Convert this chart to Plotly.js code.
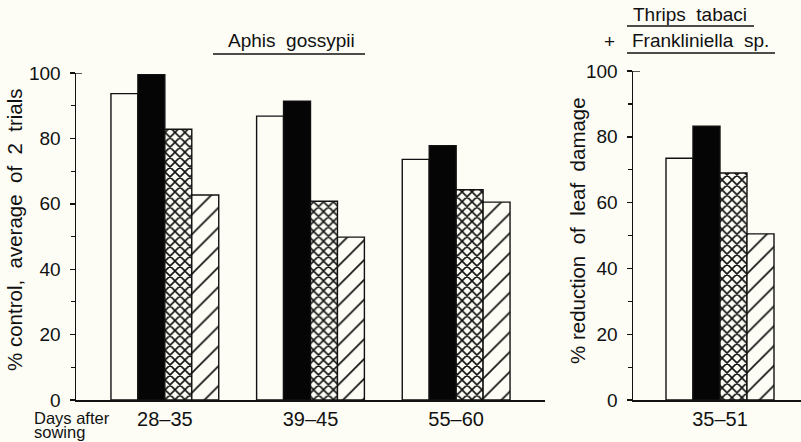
<!DOCTYPE html>
<html>
<head>
<meta charset="utf-8">
<script src="https://cdn.plot.ly/plotly-3.0.1.min.js"></script>
<style>html,body{margin:0;padding:0;background:#fdfdf6;}#chart{width:801px;height:442px;}</style>
</head>
<body>
<div id="chart"></div>
<script>
// Data
var aphisCategories = ['28\u201335', '39\u201345', '55\u201360'];
var aphisWhite  = [93.7, 86.8, 73.6];
var aphisBlack  = [99.5, 91.4, 77.8];
var aphisCross  = [82.8, 60.8, 64.3];
var aphisHatch  = [62.7, 49.8, 60.5];

var thripsCategories = ['35\u201351'];
var thripsWhite = [73.5];
var thripsBlack = [83.2];
var thripsCross = [69.0];
var thripsHatch = [50.5];

var yTickVals = [0, 20, 40, 60, 80, 100];

var FONT = 'Liberation Sans, Arial, sans-serif';
var INK = '#111';
var BG = '#fdfdf6';

function styleFor(kind) {
  var m = {line: {color: INK, width: 1.4}};
  if (kind === 'white') { m.color = BG; }
  else if (kind === 'black') { m.color = '#050505'; }
  else if (kind === 'cross') { m.color = BG; m.pattern = {shape: 'x', size: 7, solidity: 0.4, fgcolor: INK, bgcolor: BG, fillmode: 'replace'}; }
  else { m.color = BG; m.pattern = {shape: '/', size: 14, solidity: 0.12, fgcolor: INK, bgcolor: BG, fillmode: 'replace'}; }
  return m;
}

function bar(cats, vals, kind, xa, ya) {
  return {type: 'bar', x: cats, y: vals, xaxis: xa, yaxis: ya, marker: styleFor(kind), showlegend: false, hoverinfo: 'x+y'};
}

var data = [
  bar(aphisCategories, aphisWhite, 'white', 'x', 'y'),
  bar(aphisCategories, aphisBlack, 'black', 'x', 'y'),
  bar(aphisCategories, aphisCross, 'cross', 'x', 'y'),
  bar(aphisCategories, aphisHatch, 'hatch', 'x', 'y'),
  bar(thripsCategories, thripsWhite, 'white', 'x2', 'y2'),
  bar(thripsCategories, thripsBlack, 'black', 'x2', 'y2'),
  bar(thripsCategories, thripsCross, 'cross', 'x2', 'y2'),
  bar(thripsCategories, thripsHatch, 'hatch', 'x2', 'y2')
];

function yAxis(domainTop, anchor) {
  return {
    domain: [42/442, domainTop], range: [0, 100], anchor: anchor,
    tickvals: yTickVals, ticks: 'outside', ticklen: 5, tickwidth: 1.4, tickcolor: INK,
    minor: {dtick: 10, ticks: 'outside', ticklen: 4, tickwidth: 1.2, tickcolor: INK, showgrid: false},
    showline: true, linecolor: INK, linewidth: 1.5, showgrid: false, zeroline: false,
    tickfont: {family: FONT, size: 19, color: INK}, ticklabelstandoff: 5, fixedrange: true
  };
}
function xAxis(domain, range, anchor) {
  return {
    domain: domain, range: range, anchor: anchor, type: 'category',
    showline: true, linecolor: INK, linewidth: 1.5, ticks: '', showgrid: false, zeroline: false,
    tickfont: {family: FONT, size: 20, color: INK}, ticklabelstandoff: 0, fixedrange: true
  };
}

function note(text, px, py, extra) {
  var a = {text: text, xref: 'paper', yref: 'paper', x: px/801, y: (442-py)/442,
    xanchor: 'center', yanchor: 'middle', showarrow: false,
    font: {size: 19, family: FONT, color: INK}};
  for (var k in (extra || {})) a[k] = extra[k];
  return a;
}

var smallFont = {size: 16.5, family: FONT, color: INK};
var titleFont = {size: 20.5, family: FONT, color: INK};

var layout = {
  width: 801, height: 442,
  margin: {l: 0, r: 0, t: 0, b: 0},
  paper_bgcolor: BG, plot_bgcolor: BG,
  barmode: 'group', bargap: 0.26, bargroupgap: 0,
  showlegend: false,
  font: {family: FONT, color: INK},
  xaxis: xAxis([76/801, 545/801], [-0.61, 2.61], 'y'),
  yaxis: yAxis(369/442, 'x'),
  xaxis2: xAxis([633/801, 1], [-0.596, 0.555], 'y2'),
  yaxis2: yAxis(371/442, 'x2'),
  annotations: [
    note('Aphis  gossypii', 291, 40),
    note('Thrips  tabaci', 690, 14),
    note('+', 609, 41),
    note('Frankliniella  sp.', 700, 40),
    note('Days after', 33, 418, {xanchor: 'left', font: smallFont, borderpad: 0}),
    note('sowing', 33, 442, {xanchor: 'left', yanchor: 'bottom', font: smallFont, borderpad: 0}),
    note('% control,  average  of  2  trials', 15, 230, {textangle: -90, font: titleFont}),
    note('% reduction  of  leaf  damage', 578, 231, {textangle: -90, font: titleFont})
  ],
  shapes: [
    {type: 'line', xref: 'paper', yref: 'paper', x0: 213/801, x1: 365/801, y0: (442-54)/442, y1: (442-54)/442, line: {color: INK, width: 1.5}},
    {type: 'line', xref: 'paper', yref: 'paper', x0: 627/801, x1: 754/801, y0: (442-26)/442, y1: (442-26)/442, line: {color: INK, width: 1.5}},
    {type: 'line', xref: 'paper', yref: 'paper', x0: 627/801, x1: 775/801, y0: (442-53)/442, y1: (442-53)/442, line: {color: INK, width: 1.5}},
    {type: 'line', xref: 'paper', yref: 'y', x0: 76/801, x1: 82/801, y0: 100, y1: 100, line: {color: INK, width: 1.4}},
    {type: 'line', xref: 'paper', yref: 'y2', x0: 633/801, x1: 640/801, y0: 100, y1: 100, line: {color: INK, width: 1.4}}
  ]
};

Plotly.newPlot('chart', data, layout, {staticPlot: true, displayModeBar: false});
</script>
</body>
</html>
